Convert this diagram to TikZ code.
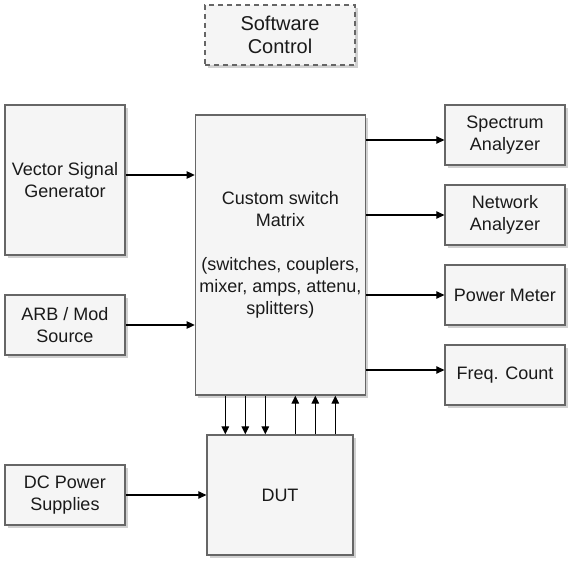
\documentclass[tikz,border=0pt]{standalone}
\usepackage{fontspec}
\setmainfont{Liberation Sans}
\usetikzlibrary{arrows.meta,shadows}
\definecolor{boxfill}{HTML}{F5F5F5}
\definecolor{boxline}{HTML}{666666}
\definecolor{txt}{HTML}{1A1A1A}
\begin{document}
\begin{tikzpicture}[x=1pt,y=-1pt,
  blk/.style={draw=boxline, fill=boxfill, line width=1.3pt, align=center,
    text=txt, inner sep=2pt, font=\fontsize{18}{22}\selectfont,
    drop shadow={shadow xshift=2.5pt, shadow yshift=-2.5pt, fill=black, opacity=0.18}},
  arr/.style={draw=black, line width=1.1pt, -{Triangle[length=8pt,width=7.5pt]}}]
\useasboundingbox (0,0) rectangle (574,565);

% control and sources
\node[blk, dashed, dash pattern=on 5pt off 4pt, minimum width=150pt, minimum height=60pt,
  font=\fontsize{20}{23.5}\selectfont] (sw) at (280,35) {Software\\Control};
\node[blk, minimum width=120pt, minimum height=150pt] (vsg) at (65,180) {Vector Signal\\Generator};
\node[blk, minimum width=120pt, minimum height=60pt] (arb) at (65,325) {ARB / Mod\\Source};
\node[blk, minimum width=120pt, minimum height=60pt] (dc) at (65,495) {DC Power\\Supplies};

% switch matrix and device under test
\node[blk, minimum width=170pt, minimum height=280pt] (mat) at (280.3,255)
  {Custom switch\\Matrix\\[22pt](switches, couplers,\\mixer, amps, attenu,\\splitters)};
\node[blk, minimum width=146pt, minimum height=120pt] (dut) at (280,495) {DUT};

% instruments
\node[blk, minimum width=120pt, minimum height=60pt] (sa) at (505,135) {Spectrum\\Analyzer};
\node[blk, minimum width=120pt, minimum height=60pt] (na) at (505,215) {Network\\Analyzer};
\node[blk, minimum width=120pt, minimum height=60pt] (pm) at (505,295) {Power Meter};
\node[blk, minimum width=120pt, minimum height=60pt] (fc) at (505,375) {Freq. Count};

% inputs
\draw[arr] ([yshift=5pt]vsg.east) -- ([yshift=5pt]vsg.east -| mat.west);
\draw[arr] (arb.east) -- (arb.east -| mat.west);
\draw[arr] (dc.east) -- (dc.east -| dut.west);

% outputs
\draw[arr] ([yshift=-5pt]sa.west -| mat.east) -- ([yshift=-5pt]sa.west);
\draw[arr] (na.west -| mat.east) -- (na.west);
\draw[arr] (pm.west -| mat.east) -- (pm.west);
\draw[arr] ([yshift=5pt]fc.west -| mat.east) -- ([yshift=5pt]fc.west);

% matrix to DUT and back
\foreach \dx in {-55,-35,-15}
  \draw[arr] ([xshift=\dx pt]mat.south) -- ([xshift=\dx pt]mat.south |- dut.north);
\foreach \dx in {15,35,55}
  \draw[arr] ([xshift=\dx pt]mat.south |- dut.north) -- ([xshift=\dx pt]mat.south);
\end{tikzpicture}
\end{document}
